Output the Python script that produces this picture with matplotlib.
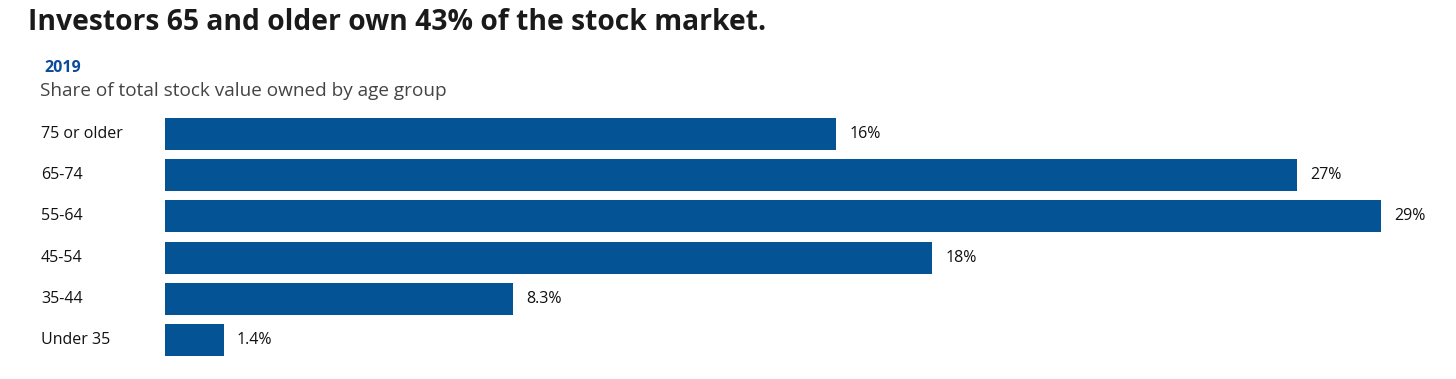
import matplotlib.pyplot as plt

plt.rcParams['font.family'] = ['Open Sans', 'DejaVu Sans']

# data
groups = ['75 or older', '65-74', '55-64', '45-54', '35-44', 'Under 35']
shares = [16.0, 27.0, 29.0, 18.3, 8.3, 1.4]
share_labels = ['16%', '27%', '29%', '18%', '8.3%', '1.4%']

W, H = 1456, 379
fig = plt.figure(figsize=(W / 100, H / 100), dpi=100)

# axes placed in pixel terms: bars from x=165 to x=1381 (29%)
left, right = 165, 1381
top, bottom = 113.4, 360.6
ax = fig.add_axes([left / W, 1 - bottom / H, (right - left) / W, (bottom - top) / H])

bar_color = '#045394'
ypos = list(range(len(groups)))
ax.barh(ypos, shares, height=0.775, color=bar_color)
ax.set_xlim(0, 29)
ax.set_ylim(len(groups) - 0.5, -0.5)
ax.axis('off')

for y, v, lab in zip(ypos, shares, share_labels):
    ax.annotate(lab, (v, y), xytext=(9.5, 0), textcoords='offset points',
                va='center', ha='left', fontsize=11.5, color='#111111')

for y, g in zip(ypos, groups):
    ax.text(41 / W, 1 - (134 + 41.25 * y) / H, g, transform=fig.transFigure,
            va='center', ha='left', fontsize=11.5, color='#111111')

fig.text(28 / W, 1 - 23 / H, 'Investors 65 and older own 43% of the stock market.',
         fontsize=20.3, fontweight='bold', color='#1a1a1a', va='center', ha='left')
fig.text(44 / W, 1 - 68 / H, '2019', fontsize=11.5, fontweight='bold',
         color='#0b4a9a', va='center', ha='left')
fig.text(40 / W, 1 - 91 / H, 'Share of total stock value owned by age group',
         fontsize=13.7, color='#444444', va='center', ha='left')

fig.savefig('out.png', dpi=100)
